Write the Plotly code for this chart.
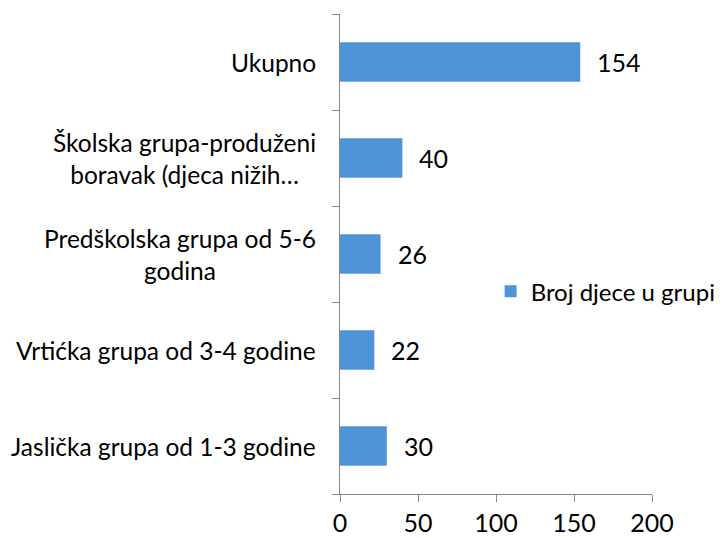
import plotly.graph_objects as go

categories = [
    "Jaslička grupa od 1-3 godine",
    "Vrtićka grupa od 3-4 godine",
    "Predškolska grupa od 5-6<br>godina",
    "Školska grupa-produženi<br>boravak (djeca nižih…",
    "Ukupno",
]
values = [30, 22, 26, 40, 154]
series_name = "Broj djece u grupi"
x_ticks = [0, 50, 100, 150, 200]

FONT = "Lato"
FS = 25
AXIS_COLOR = "#868686"

fig = go.Figure()
fig.add_trace(go.Bar(
    y=categories, x=values, orientation="h", name=series_name,
    marker=dict(color="#4f94d8", line=dict(width=0)),
    width=0.41,
))

for c, v in zip(categories, values):
    fig.add_annotation(x=v, y=c, text=str(v), showarrow=False,
                       xanchor="left", xshift=15, font=dict(size=FS, color="#000000", family=FONT))
    fig.add_annotation(x=0, xref="paper", y=c, text=c, showarrow=False,
                       xanchor="right", align="center", xshift=-22,
                       font=dict(size=24.5, color="#000000", family=FONT))

fig.update_layout(
    width=715, height=530,
    margin=dict(l=332, r=71, t=6, b=44, autoexpand=False),
    paper_bgcolor="white", plot_bgcolor="white",
    font=dict(family=FONT, size=FS, color="#000000"),
    showlegend=True,
    legend=dict(xref="container", yref="container", x=0.675, y=0.465,
                xanchor="left", yanchor="middle",
                font=dict(size=24, family=FONT), bgcolor="rgba(0,0,0,0)"),
)
fig.update_xaxes(range=[0, 200], tickvals=x_ticks, showgrid=False, zeroline=False,
                 showline=True, linecolor=AXIS_COLOR, linewidth=1,
                 ticks="outside", ticklen=7, tickcolor=AXIS_COLOR,
                 tickfont=dict(size=FS, family=FONT), automargin=False)
fig.update_yaxes(showgrid=False, zeroline=False, showline=True, linecolor=AXIS_COLOR,
                 linewidth=1, ticks="outside", ticklen=7, tickcolor=AXIS_COLOR,
                 tickson="boundaries", showticklabels=False, automargin=False)

fig.write_html("out.html")
